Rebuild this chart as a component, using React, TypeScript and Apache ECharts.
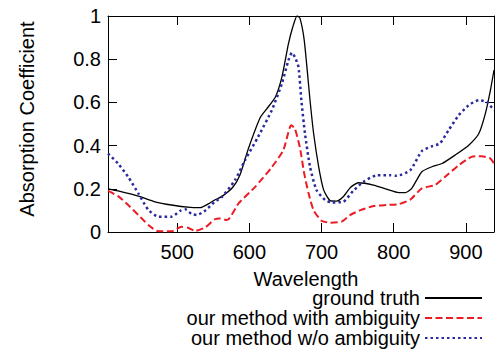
import React, { useEffect, useRef } from "react";
import * as echarts from "echarts";

const seriesNames = ["ground truth", "our method with ambiguity", "our method w/o ambiguity"];

const gtWavelength = [404, 418, 446, 469, 492, 518, 532, 543, 552, 562, 577, 587, 599, 615, 624, 636, 645, 654, 660, 666, 670, 676, 684, 689, 696, 703, 712, 721, 730, 740, 751, 772, 791, 807, 816, 825, 839, 853, 867, 885, 904, 918, 927, 934, 939];
const gtValue = [0.2, 0.19, 0.166, 0.14, 0.125, 0.114, 0.113, 0.13, 0.148, 0.165, 0.207, 0.265, 0.39, 0.53, 0.57, 0.625, 0.717, 0.87, 0.948, 1.0, 0.99, 0.887, 0.61, 0.456, 0.302, 0.194, 0.145, 0.143, 0.163, 0.206, 0.228, 0.217, 0.197, 0.182, 0.182, 0.202, 0.279, 0.302, 0.317, 0.356, 0.402, 0.456, 0.548, 0.656, 0.75];

const withAmbWavelength = [404, 418, 432, 446, 460, 472, 492, 506, 515, 525, 539, 552, 559, 569, 585, 608, 631, 647, 658, 663, 670, 676, 682, 689, 700, 712, 728, 740, 753, 772, 791, 807, 823, 839, 857, 871, 890, 908, 922, 934, 939];
const withAmbValue = [0.19, 0.166, 0.125, 0.079, 0.032, 0.005, 0.003, 0.024, 0.02, 0.005, 0.022, 0.059, 0.063, 0.055, 0.133, 0.209, 0.3, 0.379, 0.494, 0.479, 0.39, 0.27, 0.179, 0.1, 0.052, 0.043, 0.048, 0.079, 0.1, 0.12, 0.125, 0.129, 0.15, 0.202, 0.217, 0.255, 0.309, 0.348, 0.351, 0.34, 0.317];

const woAmbWavelength = [404, 418, 432, 446, 460, 474, 492, 504, 511, 520, 527, 539, 552, 562, 580, 594, 612, 631, 645, 654, 659, 663, 668, 672, 677, 684, 693, 705, 714, 730, 744, 758, 777, 795, 804, 823, 839, 853, 864, 876, 890, 904, 918, 929, 939];
const woAmbValue = [0.363, 0.317, 0.255, 0.179, 0.102, 0.071, 0.071, 0.098, 0.105, 0.083, 0.079, 0.1, 0.14, 0.163, 0.24, 0.333, 0.44, 0.564, 0.687, 0.794, 0.83, 0.81, 0.764, 0.61, 0.456, 0.302, 0.194, 0.148, 0.137, 0.14, 0.191, 0.232, 0.263, 0.263, 0.26, 0.286, 0.375, 0.397, 0.41, 0.471, 0.54, 0.587, 0.61, 0.602, 0.563];

const xMin = 404;
const xMax = 939;

export default function App() {
  const ref = useRef<HTMLDivElement>(null);
  useEffect(() => {
    const chart = echarts.init(ref.current as HTMLDivElement, null, { renderer: "svg" });
    const font = "'Liberation Sans', Arial, Helvetica, sans-serif";
    const zip = (xs: number[], ys: number[]) => xs.map((x, i) => [x, ys[i]]);
    const axisLine = { show: true, onZero: false, lineStyle: { color: "#000", width: 1 } };
    const axisTick = { show: true, inside: true, length: 9, lineStyle: { color: "#000", width: 1 } };
    const txt = { fontSize: 20, color: "#000", fontFamily: font };
    chart.setOption({
      animation: false,
      backgroundColor: "#fff",
      textStyle: { fontFamily: font },
      grid: { left: 108, right: 2, top: 16, bottom: 117, containLabel: false },
      legend: {
        orient: "vertical",
        align: "right",
        right: 13,
        top: 288,
        padding: 0,
        itemWidth: 57,
        itemHeight: 20,
        itemGap: 0,
        itemStyle: { opacity: 0, borderWidth: 0 },
        textStyle: { ...txt, lineHeight: 20 },
        data: seriesNames,
      },
      xAxis: [
        {
          type: "value",
          min: xMin,
          max: xMax,
          position: "bottom",
          name: "Wavelength",
          nameLocation: "middle",
          nameGap: 37,
          nameTextStyle: { ...txt, lineHeight: 19, padding: [0, 0, 0, 10] },
          axisLine,
          axisTick,
          axisLabel: { ...txt, margin: 10, showMinLabel: false, showMaxLabel: false },
          splitLine: { show: false },
        },
        {
          type: "value",
          min: xMin,
          max: xMax,
          position: "top",
          axisLine,
          axisTick,
          axisLabel: { show: false },
          splitLine: { show: false },
        },
      ],
      yAxis: [
        {
          type: "value",
          min: 0,
          max: 1,
          interval: 0.2,
          position: "left",
          name: "Absorption Coefficient",
          nameLocation: "middle",
          nameRotate: 90,
          nameGap: 71,
          nameTextStyle: { ...txt, padding: [0, 0, 0, 10] },
          axisLine,
          axisTick,
          axisLabel: { ...txt, margin: 7 },
          splitLine: { show: false },
        },
        {
          type: "value",
          min: 0,
          max: 1,
          interval: 0.2,
          position: "right",
          axisLine,
          axisTick,
          axisLabel: { show: false },
          splitLine: { show: false },
        },
      ],
      series: [
        {
          name: seriesNames[0],
          type: "line",
          data: zip(gtWavelength, gtValue),
          symbol: "none",
          showSymbol: false,
          smooth: 0.2,
          itemStyle: { color: "#000" },
          lineStyle: { color: "#000", width: 1.3, type: "solid" },
        },
        {
          name: seriesNames[1],
          type: "line",
          data: zip(withAmbWavelength, withAmbValue),
          symbol: "none",
          showSymbol: false,
          smooth: 0.2,
          itemStyle: { color: "#ec1c24" },
          lineStyle: { color: "#ec1c24", width: 2, type: [7, 3.5] },
        },
        {
          name: seriesNames[2],
          type: "line",
          data: zip(woAmbWavelength, woAmbValue),
          symbol: "none",
          showSymbol: false,
          smooth: 0.2,
          itemStyle: { color: "#2a2a9e" },
          lineStyle: { color: "#2a2a9e", width: 2.5, type: [2.5, 3] },
        },
      ],
    });
    return () => chart.dispose();
  }, []);
  return (
    <div
      ref={ref}
      style={{ position: "fixed", left: 0, top: 0, width: 496, height: 349, background: "#fff" }}
    />
  );
}
